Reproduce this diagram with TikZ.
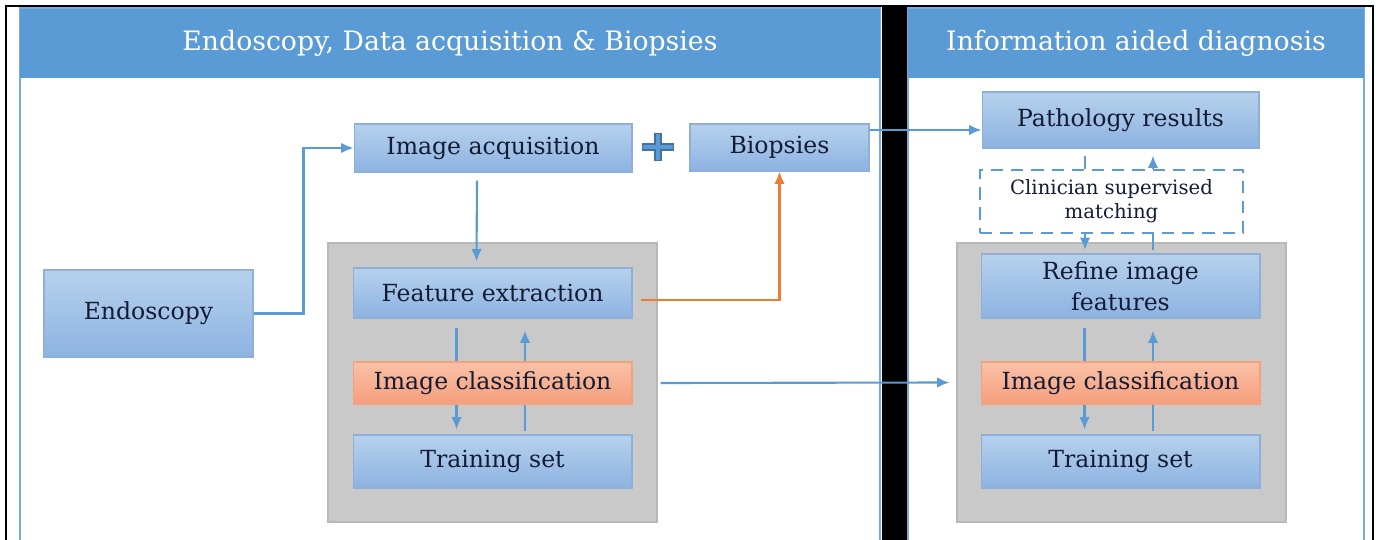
\documentclass[tikz,border=0pt]{standalone}
\usepackage{fontspec}
\setmainfont{DejaVu Serif}
\usetikzlibrary{arrows.meta}

\definecolor{hdblue}{HTML}{5B9BD5}
\definecolor{paneledge}{HTML}{7AAAD8}
\definecolor{boxtop}{HTML}{B6D1EC}
\definecolor{boxbot}{HTML}{8DB3E2}
\definecolor{boxedge}{HTML}{8EAFD8}
\definecolor{otop}{HTML}{FAC1A6}
\definecolor{obot}{HTML}{F59E7C}
\definecolor{oedge}{HTML}{F3A27F}
\definecolor{grayfill}{HTML}{C9C9C9}
\definecolor{grayedge}{HTML}{B8B8B8}
\definecolor{arrblue}{HTML}{5B9BD5}
\definecolor{plusedge}{HTML}{41719C}
\definecolor{arrorange}{HTML}{ED7D31}
\definecolor{ink}{HTML}{141C34}

\tikzset{
  box/.style={draw=boxedge, line width=.6pt, top color=boxtop, bottom color=boxbot, text=ink,
    font=\fontsize{13.4}{17.5}\selectfont, inner sep=0pt, align=center},
  obox/.style={box, draw=oedge, top color=otop, bottom color=obot},
  graybox/.style={draw=grayedge, line width=.8pt, fill=grayfill},
  panel/.style={draw=paneledge, line width=1.2pt, fill=white},
  header/.style={fill=hdblue, text=white, font=\fontsize{15.2}{18}\selectfont, inner sep=0pt},
  ln/.style={draw=arrblue, line width=1.2pt},
  arr/.style={ln, -{Latex[length=7pt,width=6pt]}},
  oarr/.style={arr, draw=arrorange},
}

\begin{document}
\begin{tikzpicture}[x=0.02cm,y=-0.02cm]
\useasboundingbox (0,0) rectangle (1379,540);
\clip (0,0) rectangle (1379,540);
\fill[white] (0,0) rectangle (1379,540);
% frame and panels
\draw[line width=1.6pt] (6,560) -- (6,6) -- (1373,6) -- (1373,560);
\fill (882,5) rectangle (908,560);
\draw[panel] (20,8) rectangle (880,560);
\draw[panel] (908,8) rectangle (1364,560);
\node[header, minimum width=17.2cm, minimum height=1.38cm] (hdl) at (450,43.5) {Endoscopy, Data acquisition \& Biopsies};
\node[header, minimum width=9.12cm, minimum height=1.38cm] (hdr) at (1136,43.5) {Information aided diagnosis};

% left panel
\node[box, minimum width=4.18cm, minimum height=1.74cm] (endo) at (148.5,313.5) {Endoscopy};
\node[box, minimum width=5.56cm, minimum height=.96cm] (acq) at (493,148) {Image acquisition};
\node[box, minimum width=3.58cm, minimum height=.94cm] (bio) at (779.5,147.5) {Biopsies};
\draw[plusedge, line width=4.4pt] (642,147) -- (674,147) (658,133) -- (658,161);
\draw[arrblue, line width=2.8pt] (643,147) -- (673,147) (658,134) -- (658,160);
\node[graybox, minimum width=6.58cm, minimum height=5.58cm] (grl) at (492.5,382.5) {};
\node[box, minimum width=5.58cm, minimum height=1cm] (fel) at (492.5,293) {Feature extraction};
\node[obox, minimum width=5.58cm, minimum height=.84cm] (icl) at (492.5,383) {Image classification};
\node[box, minimum width=5.58cm, minimum height=1.06cm] (tsl) at (492.5,461.5) {Training set};

% right panel
\node[box, minimum width=5.54cm, minimum height=1.12cm] (path) at (1120.5,120) {Pathology results};
\node[draw=arrblue, line width=1.2pt, dash pattern=on 7pt off 4.5pt, fill=white, minimum width=5.26cm,
  minimum height=1.26cm, inner sep=0pt, align=center, text=ink, font=\fontsize{11.2}{13.5}\selectfont] (match) at (1111.5,201.5) {Clinician supervised\\matching};
\node[graybox, minimum width=6.58cm, minimum height=5.58cm] (grr) at (1121.5,382.5) {};
\node[box, minimum width=5.58cm, minimum height=1.28cm] (fer) at (1120.5,286) {Refine image\\features};
\node[obox, minimum width=5.58cm, minimum height=.84cm] (icr) at (1120.5,383) {Image classification};
\node[box, minimum width=5.58cm, minimum height=1.06cm] (tsr) at (1120.5,461.5) {Training set};

% connectors
\draw[arr] (endo.east) -- ++(50,0) |- (acq.west);
\draw[arr] ([xshift=-.32cm,yshift=-.16cm]acq.south) -- ([xshift=-.32cm,yshift=.12cm]fel.north);
\draw[oarr] ([xshift=.16cm,yshift=-.14cm]fel.east) -| (bio.south);
\coordinate (b1) at ([yshift=.35cm]bio.east);
\draw[arr] (b1) -- (b1 -| path.west);
\draw[arr] ([xshift=.56cm]icl.east) -- ([xshift=-.14cm]grr.west);
\foreach \s in {l,r}{
  \draw[ln] ([xshift=-.72cm,yshift=-.18cm]fe\s.south) -- ([xshift=-.72cm]ic\s.north);
  \draw[arr] ([xshift=-.72cm]ic\s.south) -- ([xshift=-.72cm,yshift=.1cm]ts\s.north);
  \draw[ln] ([xshift=.65cm,yshift=.06cm]ts\s.north) -- ([xshift=.65cm]ic\s.south);
  \draw[arr] ([xshift=.65cm]ic\s.north) -- ([xshift=.65cm,yshift=-.24cm]fe\s.south);
}
\coordinate (ml) at ([xshift=-.71cm,yshift=-.14cm]path.south);
\coordinate (mr) at ([xshift=.65cm,yshift=-.14cm]path.south);
\draw[ln] (ml) -- (ml |- match.north);
\draw[arr, shorten >=2pt] (ml |- match.south) -- (ml |- fer.north);
\draw[ln, shorten <=2pt] (mr |- fer.north) -- (mr |- match.south);
\draw[arr] (mr |- match.north) -- (mr);
\end{tikzpicture}
\end{document}
